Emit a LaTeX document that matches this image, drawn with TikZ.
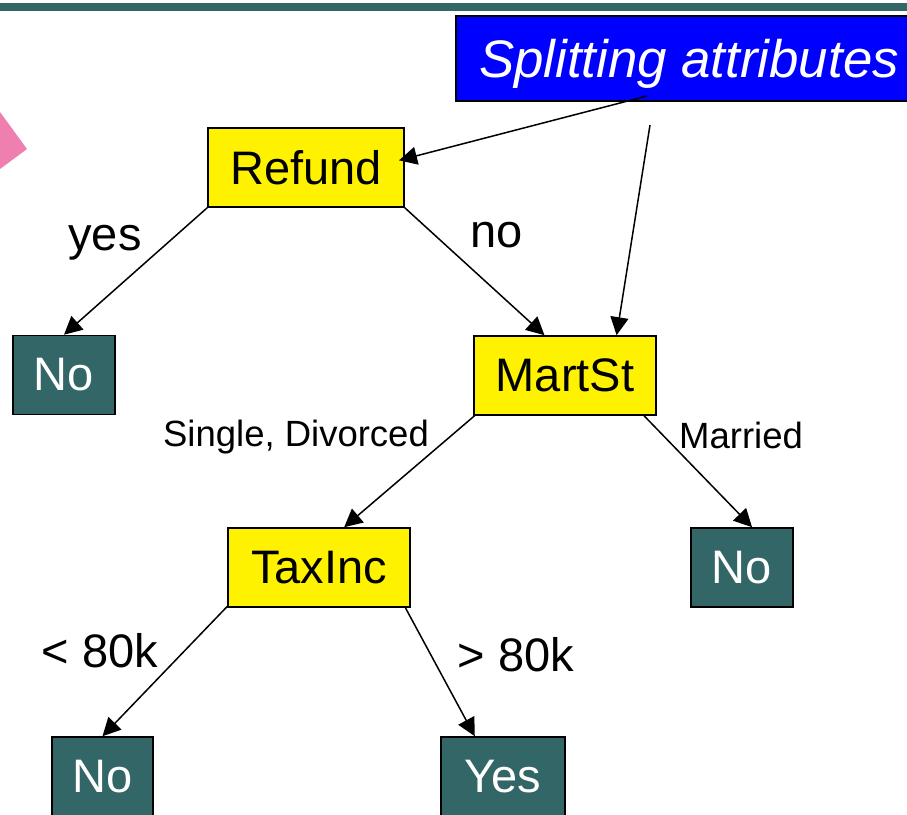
\documentclass[tikz,border=0pt]{standalone}
\usepackage{fontspec}
\setmainfont{Liberation Sans}
\usetikzlibrary{arrows.meta}
\definecolor{slate}{HTML}{336666}
\definecolor{rose}{HTML}{EE7FAE}
\definecolor{attrblue}{HTML}{0000FF}
\begin{document}
\begin{tikzpicture}[x=1pt,y=-1pt,
  test/.style={draw=black,line width=1.6pt,fill=yellow,minimum width=196pt,minimum height=79pt,
    inner sep=0pt,font=\fontsize{47}{56}\selectfont},
  leaf/.style={draw=black,line width=1.6pt,fill=slate,text=white,minimum width=102pt,minimum height=79pt,
    inner sep=0pt,font=\fontsize{47}{56}\selectfont},
  biglabel/.style={inner sep=0pt,font=\fontsize{47}{56}\selectfont},
  smalllabel/.style={inner sep=0pt,font=\fontsize{36.5}{44}\selectfont},
  edge/.style={line width=1.5pt,-{Triangle[length=18pt,width=18pt]}}]
\useasboundingbox (0,0) rectangle (907,814);
% header band and decoration
\fill[slate] (0,3) rectangle (907,11);
\fill[rose] (0,112) -- (27,149) -- (0,169) -- cycle;
% callout box
\node[draw=black,line width=1.6pt,fill=attrblue,minimum width=463pt,minimum height=85pt,
  inner sep=0pt] (attr) at (687.5,58.5) {};
\node[inner sep=0pt,text=white,font=\fontsize{52.8}{62}\selectfont\itshape] (attrtext) at (689,63.5) {Splitting attributes};
% decision nodes
\node[test] (refund) at (306,167.5) {Refund};
\node[test,minimum width=182pt] (mart) at (565,375.5) {MartSt};
\node[test,minimum width=182pt] (tax) at (319,567.5) {TaxInc};
% leaves
\node[leaf] (no1) at (64,375) {No};
\node[leaf] (no2) at (742,567.5) {No};
\node[leaf,minimum width=101pt] (no3) at (102.5,776.5) {No};
\node[leaf,minimum width=124pt] (yes) at (503,776.5) {Yes};
% branches
\draw[edge] (refund.south west) -- (no1.north);
\draw[edge] (refund.south east) -- (mart.117);
\draw[edge] (mart.204.7) -- (tax.58.7);
\draw[edge] (mart.333.1) -- (no2.76);
\draw[edge] (tax.203.9) -- (no3.north);
\draw[edge] (tax.335.1) -- (yes.125.3);
% branch labels
\node[biglabel] (lyes) at (105,243) {yes};
\node[biglabel] (lno) at (497,235) {no};
\node[smalllabel] (lsd) at (296,437) {Single, Divorced};
\node[smalllabel] (lmar) at (741,435) {Married};
\node[biglabel] (llt) at (100,651) {< 80k};
\node[biglabel] (lgt) at (516,655) {> 80k};
% callout pointers
\coordinate (tail1) at (647,96);
\coordinate (tail2) at (650,125);
\draw[edge,shorten >=-6pt] (tail1) -- (refund.5);
\draw[edge] (tail2) -- (mart.38.3);
\end{tikzpicture}
\end{document}
